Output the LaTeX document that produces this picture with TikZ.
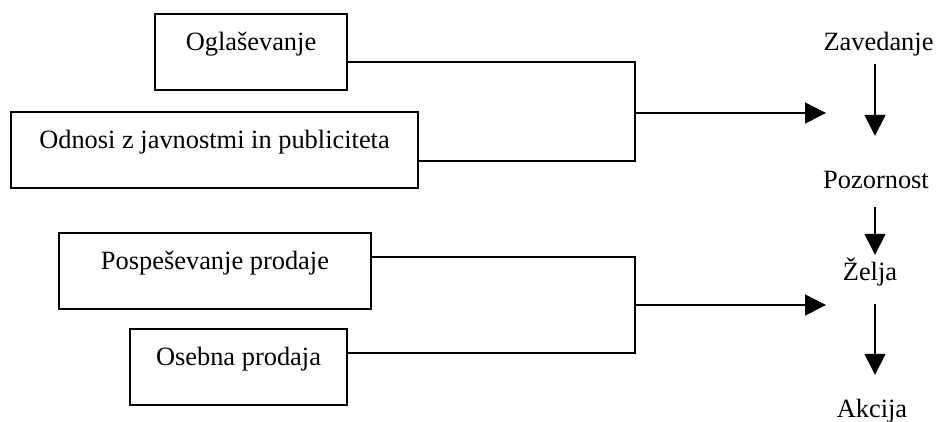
\documentclass[tikz,border=0pt]{standalone}
\usepackage{fontspec}
\setmainfont{Liberation Serif}
\usetikzlibrary{arrows.meta}
\begin{document}
\begin{tikzpicture}[x=1bp, y=-1bp,
  every node/.style={font=\fontsize{26.5}{31}\selectfont, inner sep=0pt},
  tool/.style={draw, line width=1.5bp, text height=36bp, text depth=40bp, anchor=base},
  stage/.style={text height=18bp, text depth=6bp, anchor=base},
  wire/.style={line width=1.5bp},
  arr/.style={line width=1.5bp, -{Triangle[length=21bp, width=21bp]}}]
  \useasboundingbox (0,0) rectangle (936,421);

  % promotion tools, grouped in two pairs
  \node[tool, minimum width=192bp] (ogl) at (251,50) {Oglaševanje};
  \node[tool, minimum width=407bp] (odn) at (214.5,148) {Odnosi z javnostmi in publiciteta};
  \node[tool, minimum width=312bp] (pos) at (215,269) {Pospeševanje prodaje};
  \node[tool, minimum width=217bp] (ose) at (238.5,365) {Osebna prodaja};

  % stages of the buying process
  \node[stage] (zav) at (878.5,50) {Zavedanje};
  \node[stage] (poz) at (876,188) {Pozornost};
  \node[stage] (zel) at (870,280) {Želja};
  \node[stage] (akc) at (872,417) {Akcija};

  % junctions of the bracket connectors and the arrow targets
  \coordinate (t1) at (635,62);
  \coordinate (b1) at (635,161);
  \coordinate (j1) at (635,113);
  \coordinate (e1) at (826,113);
  \coordinate (t2) at (635,257);
  \coordinate (b2) at (635,353);
  \coordinate (j2) at (635,305);
  \coordinate (e2) at (826,305);
  \coordinate (col) at (875,0);

  \draw[wire] (t1 -| ogl.east) -- (t1) -- (b1) -- (b1 -| odn.east);
  \draw[arr] (j1) -- (e1);
  \draw[wire] (t2 -| pos.east) -- (t2) -- (b2) -- (b2 -| ose.east);
  \draw[arr] (j2) -- (e2);

  \draw[arr, shorten <=8bp, shorten >=34bp] (zav.south -| col) -- (poz.north -| col);
  \draw[arr, shorten <=13bp, shorten >=7bp] (poz.south -| col) -- (zel.north -| col);
  \draw[arr, shorten <=18bp, shorten >=24bp] (zel.south -| col) -- (akc.north -| col);
\end{tikzpicture}
\end{document}
